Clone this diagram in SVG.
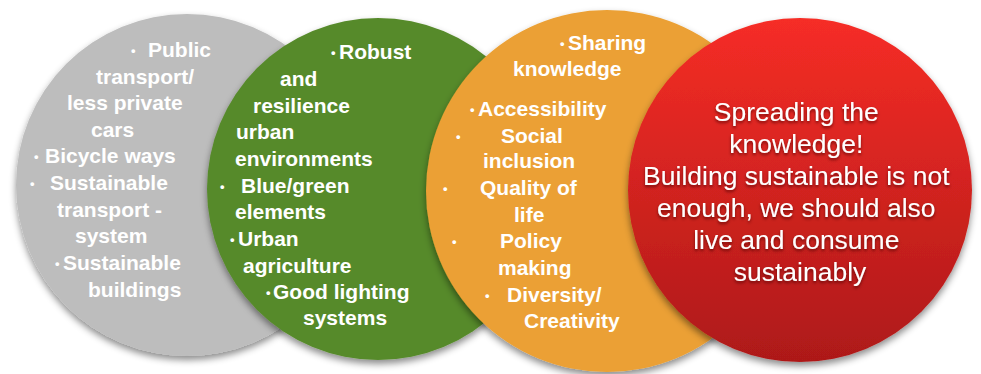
<svg xmlns="http://www.w3.org/2000/svg" width="981" height="374" viewBox="0 0 981 374">
<defs>
<style>
.t{font-family:"Liberation Sans",Arial,Helvetica,sans-serif;font-weight:bold;font-size:21px;fill:#ffffff}
.b{font-size:13px}
.r{font-family:"Liberation Sans",Arial,Helvetica,sans-serif;font-size:26.5px;fill:#ffffff;text-anchor:middle}
</style>
<filter id="sh" x="-20%" y="-20%" width="140%" height="150%">
<feDropShadow dx="0" dy="4" stdDeviation="3.5" flood-color="#000" flood-opacity="0.45"/>
</filter>
<filter id="tsh" x="-10%" y="-20%" width="120%" height="160%">
<feDropShadow dx="0" dy="2" stdDeviation="1.5" flood-color="#4a0000" flood-opacity="0.7"/>
</filter>
<linearGradient id="rg" x1="0" y1="0" x2="0" y2="1">
<stop offset="0" stop-color="#f62d26"/>
<stop offset="1" stop-color="#ad1919"/>
</linearGradient>
</defs>
<rect width="981" height="374" fill="#ffffff"/>
<g id="n-gray">
<circle cx="187" cy="185" r="171" fill="#bdbdbd" filter="url(#sh)"/>
<text class="t">
<tspan class="b" x="131" y="55">•</tspan><tspan x="148" y="57">Public</tspan>
<tspan x="96" y="84">transport/</tspan>
<tspan x="67" y="110">less private</tspan>
<tspan x="91" y="137">cars</tspan>
<tspan class="b" x="34" y="161">•</tspan><tspan x="45" y="163">Bicycle ways</tspan>
<tspan class="b" x="30" y="188">•</tspan><tspan x="50" y="190">Sustainable</tspan>
<tspan x="57" y="217">transport -</tspan>
<tspan x="75" y="243">system</tspan>
<tspan class="b" x="55" y="268">•</tspan><tspan x="63" y="270">Sustainable</tspan>
<tspan x="88" y="297">buildings</tspan>
</text>
</g>
<g id="n-green">
<circle cx="378" cy="189" r="171" fill="#578a2b" filter="url(#sh)"/>
<text class="t">
<tspan class="b" x="331" y="57">•</tspan><tspan x="339" y="59">Robust</tspan>
<tspan x="280" y="86">and</tspan>
<tspan x="253" y="113">resilience</tspan>
<tspan x="236" y="139">urban</tspan>
<tspan x="235" y="166">environments</tspan>
<tspan class="b" x="220" y="191">•</tspan><tspan x="241" y="193">Blue/green</tspan>
<tspan x="235" y="219">elements</tspan>
<tspan class="b" x="230" y="244">•</tspan><tspan x="238" y="246">Urban</tspan>
<tspan x="243" y="273">agriculture</tspan>
<tspan class="b" x="266" y="297">•</tspan><tspan x="273" y="299">Good lighting</tspan>
<tspan x="303" y="325">systems</tspan>
</text>
</g>
<g id="n-orange">
<circle cx="607" cy="191" r="181" fill="#eba034" filter="url(#sh)"/>
<text class="t">
<tspan class="b" x="560" y="48">•</tspan><tspan x="568" y="50">Sharing</tspan>
<tspan x="513" y="76">knowledge</tspan>
<tspan class="b" x="470" y="114">•</tspan><tspan x="478" y="116">Accessibility</tspan>
<tspan class="b" x="456" y="141">•</tspan><tspan x="501" y="143">Social</tspan>
<tspan x="483" y="168">inclusion</tspan>
<tspan class="b" x="443" y="193">•</tspan><tspan x="480" y="195">Quality of</tspan>
<tspan x="514" y="222">life</tspan>
<tspan class="b" x="452" y="246">•</tspan><tspan x="500" y="248">Policy</tspan>
<tspan x="498" y="275">making</tspan>
<tspan class="b" x="485" y="300">•</tspan><tspan x="507" y="302">Diversity/</tspan>
<tspan x="524" y="328">Creativity</tspan>
</text>
</g>
<g id="n-red">
<circle cx="800" cy="190" r="172" fill="url(#rg)" filter="url(#sh)"/>
<text class="r" filter="url(#tsh)">
<tspan x="800" y="121">Spreading the</tspan>
<tspan x="800" y="153">knowledge!</tspan>
<tspan x="800" y="185">Building sustainable is not</tspan>
<tspan x="800" y="217">enough, we should also</tspan>
<tspan x="800" y="249">live and consume</tspan>
<tspan x="800" y="281">sustainably</tspan>
</text>
</g>
<g id="connectors"></g>
</svg>
